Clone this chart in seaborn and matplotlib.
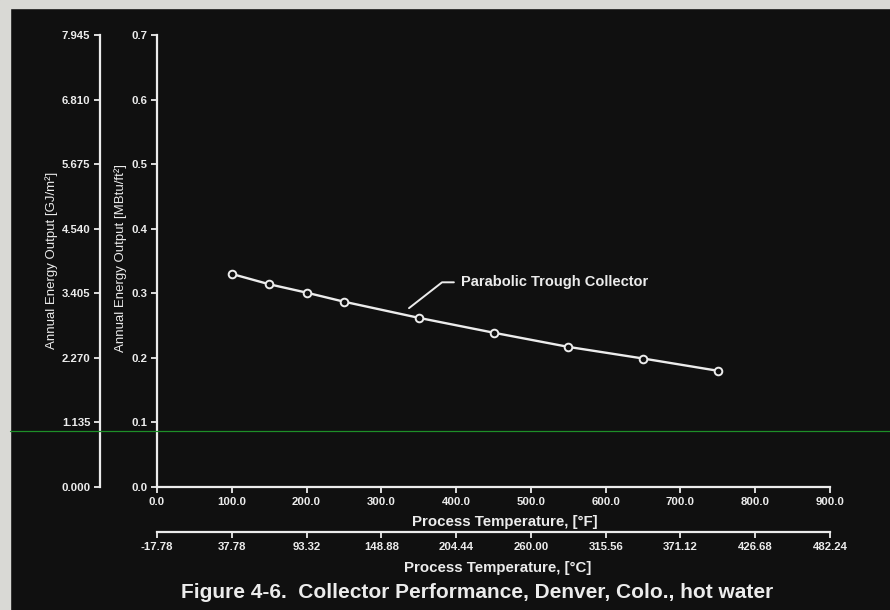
import matplotlib
matplotlib.use("Agg")
import matplotlib.pyplot as plt
from matplotlib.lines import Line2D
from matplotlib.patches import Rectangle
import seaborn as sns
import pandas as pd

# ---------------- data ----------------
temp_f = [100, 150, 200, 250, 350, 450, 550, 650, 750]
output_mbtu = [0.330, 0.314, 0.301, 0.287, 0.262, 0.239, 0.217, 0.199, 0.180]

f_ticks = [0, 100, 200, 300, 400, 500, 600, 700, 800, 900]
f_tick_labels = ["0.0", "100.0", "200.0", "300.0", "400.0", "500.0",
                 "600.0", "700.0", "800.0", "900.0"]
c_tick_labels = ["-17.78", "37.78", "93.32", "148.88", "204.44", "260.00",
                 "315.56", "371.12", "426.68", "482.24"]
mbtu_ticks = [0.0, 0.1, 0.2, 0.3, 0.4, 0.5, 0.6, 0.7]
mbtu_tick_labels = ["0.0", "0.1", "0.2", "0.3", "0.4", "0.5", "0.6", "0.7"]
gj_tick_labels = ["0.000", "1.135", "2.270", "3.405", "4.540",
                  "5.675", "6.810", "7.945"]
series_name = "Parabolic Trough Collector"

GJ_PER_MBTU = 11.35


def f2c(f):
    return (f - 32) * 5 / 9


def c2f(c):
    return c * 9 / 5 + 32


df = pd.DataFrame({"temp_f": temp_f, "output": output_mbtu})

# ---------------- style ----------------
BG = "#101010"
FG = "#ececec"
sns.set_style("dark", {"axes.facecolor": BG, "figure.facecolor": BG})
plt.rcParams["font.family"] = ["Liberation Sans Narrow", "Liberation Sans", "DejaVu Sans"]

W, H = 890, 610
fig = plt.figure(figsize=(W / 100, H / 100), dpi=100, facecolor=BG)

x0, x1 = 157, 830
y0, y1 = 487, 35
ax = fig.add_axes([x0 / W, 1 - y0 / H, (x1 - x0) / W, (y0 - y1) / H])
ax.set_facecolor(BG)

sns.lineplot(data=df, x="temp_f", y="output", ax=ax, color=FG, lw=1.7,
             marker="o", markersize=5.5, markerfacecolor=BG,
             markeredgecolor=FG, markeredgewidth=1.4, legend=False)

ax.set_xlim(0, 900)
ax.set_ylim(0, 0.7)
ax.set_xlabel("")
ax.set_ylabel("")
ax.grid(False)

for s in ["top", "right"]:
    ax.spines[s].set_visible(False)
for s in ["left", "bottom"]:
    ax.spines[s].set_visible(True)
    ax.spines[s].set_color(FG)
    ax.spines[s].set_linewidth(1.6)

tick_font = dict(fontsize=8.2, fontweight="bold", color=FG)
ax.set_xticks(f_ticks, labels=f_tick_labels, **tick_font)
ax.set_yticks(mbtu_ticks, labels=mbtu_tick_labels, **tick_font)
ax.tick_params(axis="both", direction="out", length=4, width=1.3,
               color=FG, pad=3, bottom=True, left=True)

# secondary GJ/m2 axis
sec_y = ax.secondary_yaxis((100 - x0) / (x1 - x0),
                           functions=(lambda v: v * GJ_PER_MBTU,
                                      lambda v: v / GJ_PER_MBTU))
sec_y.set_yticks([v * GJ_PER_MBTU for v in mbtu_ticks],
                 labels=gj_tick_labels, **tick_font)
sec_y.tick_params(direction="out", length=4, width=1.3, color=FG, pad=3)
for sp in sec_y.spines.values():
    sp.set_color(FG)
    sp.set_linewidth(1.6)

# secondary Celsius axis
sec_x = ax.secondary_xaxis(-(532 - y0) / (y0 - y1), functions=(f2c, c2f))
sec_x.set_xticks([f2c(f) for f in f_ticks], labels=c_tick_labels, **tick_font)
sec_x.tick_params(direction="out", length=4, width=1.3, color=FG, pad=3)
for sp in sec_x.spines.values():
    sp.set_color(FG)
    sp.set_linewidth(1.6)

# annotation
ax.annotate(series_name, xy=(337, 0.277), xytext=(407, 0.317),
            textcoords="data", color=FG, fontsize=10.5, fontweight="bold",
            ha="left", va="center", family=["Liberation Sans", "DejaVu Sans"],
            arrowprops=dict(arrowstyle="-", color=FG, lw=1.4,
                            connectionstyle="angle,angleA=0,angleB=38,rad=0",
                            relpos=(0, 0.5), shrinkA=3, shrinkB=0))

# axis labels & caption
lab_font = dict(color=FG, fontsize=10.8, family=["Liberation Sans", "DejaVu Sans"])
ylab_font = dict(color=FG, fontsize=9.5, family=["Liberation Sans", "DejaVu Sans"])
fig.text(505 / W, 1 - 522 / H, "Process Temperature, [°F]", ha="center",
         va="center", fontweight="bold", **lab_font)
fig.text(498 / W, 1 - 568 / H, "Process Temperature, [°C]", ha="center",
         va="center", fontweight="bold", **lab_font)
fig.text(52 / W, 1 - 260 / H, "Annual Energy Output [GJ/m²]", rotation=90,
         ha="center", va="center", **ylab_font)
fig.text(121 / W, 1 - 258 / H, "Annual Energy Output [MBtu/ft²]", rotation=90,
         ha="center", va="center", **ylab_font)
fig.text(477 / W, 1 - 592 / H,
         "Figure 4-6.  Collector Performance, Denver, Colo., hot water",
         ha="center", va="center", color=FG, fontsize=15, fontweight="heavy",
         family=["Liberation Sans", "DejaVu Sans"])

# scan artefacts: light border strips and thin green line
fig.add_artist(Rectangle((0, 1 - 8 / H), 1, 8 / H, transform=fig.transFigure,
                         color="#d9d9d5", zorder=0))
fig.add_artist(Rectangle((0, 0), 10 / W, 1, transform=fig.transFigure,
                         color="#d9d9d5", zorder=0))
fig.add_artist(Line2D([10 / W, 1], [1 - 431 / H] * 2, transform=fig.transFigure,
                      color="#1e8f28", lw=0.9))

fig.savefig("out.png", dpi=100, facecolor=BG)
